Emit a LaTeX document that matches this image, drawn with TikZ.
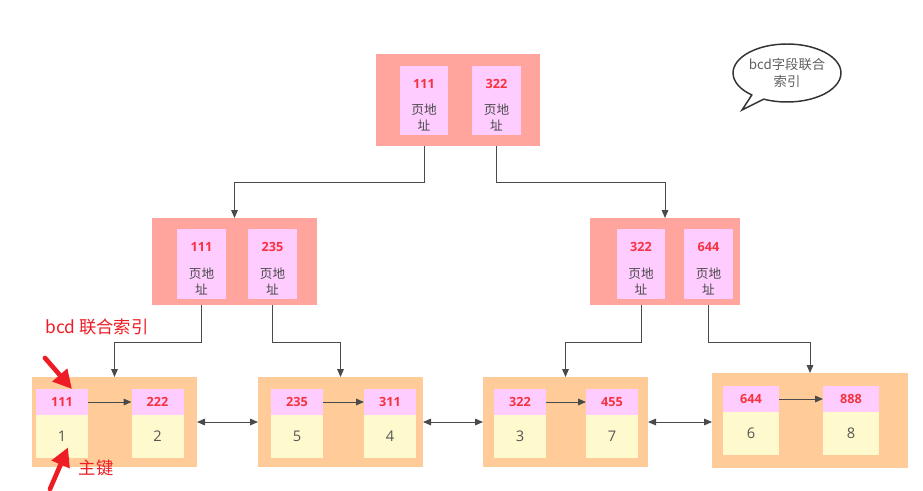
\documentclass[tikz,border=0pt]{standalone}
\usepackage{fontspec}
\setmainfont{Open Sans}
\newfontfamily\cjk{Noto Sans CJK SC}
\usepackage{tikz}
\usetikzlibrary{shapes.callouts, arrows.meta, positioning}
\usepackage{xcolor}
\definecolor{pagered}{HTML}{FFA59E}
\definecolor{keypink}{HTML}{FFCCFF}
\definecolor{keyred}{HTML}{F5333F}
\definecolor{addrgray}{HTML}{4A4A4A}
\definecolor{leafpeach}{HTML}{FFCC99}
\definecolor{valyellow}{HTML}{FFFACD}
\definecolor{valgray}{HTML}{555555}
\definecolor{linkgray}{HTML}{4A4A4A}
\definecolor{notegray}{HTML}{606060}
\definecolor{markred}{HTML}{EE1C25}

\begin{document}
\begin{tikzpicture}[
    x=0.75pt, y=-0.75pt,
    node distance=0pt,
    every node/.style={inner sep=0pt, outer sep=0pt},
    pagebox/.style={rectangle, fill=pagered, minimum height=65.25pt},
    keybox/.style={rectangle, fill=keypink, minimum width=36.5pt, minimum height=52pt},
    keynum/.style={font=\bfseries\fontsize{9.5}{11}\selectfont, text=keyred},
    addr/.style={font=\cjk\fontsize{9.5}{12}\selectfont, text=addrgray, align=center},
    leafbox/.style={rectangle, fill=leafpeach, minimum width=123.75pt, minimum height=67.5pt},
    leafkey/.style={rectangle, fill=keypink, minimum width=39pt, minimum height=19.5pt, font=\bfseries\fontsize{9.5}{11}\selectfont, text=keyred},
    leafval/.style={rectangle, fill=valyellow, minimum width=39pt, minimum height=32.25pt, font=\fontsize{11}{13}\selectfont, text=valgray},
    link/.style={draw=linkgray, line width=0.75pt, -{Triangle[length=6pt,width=5pt]}},
    biarrow/.style={draw=linkgray, line width=0.75pt, {Triangle[length=6pt,width=5pt]}-{Triangle[length=6pt,width=5pt]}},
    note/.style={ellipse callout, draw=black!80, line width=1.1pt, fill=white, minimum width=71pt, minimum height=43.5pt, align=center, font=\cjk\fontsize{10}{13}\selectfont, text=notegray},
    redtext/.style={font=\cjk\fontsize{13}{15}\selectfont, text=markred},
    redpointer/.style={draw=markred, line width=3.5pt, line cap=round, -{Triangle[length=14pt,width=14pt]}},
]
\useasboundingbox[fill=white] (0,0) rectangle (923,490);

% Root page
\node[pagebox, minimum width=123pt, minimum height=69pt] (root) at (458,100) {};
\node[keybox] (rk1) at (424,100.5) {};
\node[keybox] (rk2) at (496.5,100.5) {};
\node[keynum] at ([yshift=12.75pt]rk1.center) {111};
\node[addr] at ([yshift=-12.75pt]rk1.center) {页地\\址};
\node[keynum] at ([yshift=12.75pt]rk2.center) {322};
\node[addr] at ([yshift=-12.75pt]rk2.center) {页地\\址};

% Second level
\node[pagebox, minimum width=123.75pt] (ml) at (234.5,261.5) {};
\node[keybox] (mk1) at (201.5,264) {};
\node[keybox] (mk2) at (272.5,264) {};
\node[keynum] at ([yshift=12.75pt]mk1.center) {111};
\node[addr] at ([yshift=-12.75pt]mk1.center) {页地\\址};
\node[keynum] at ([yshift=12.75pt]mk2.center) {235};
\node[addr] at ([yshift=-12.75pt]mk2.center) {页地\\址};

\node[pagebox, minimum width=112.5pt] (mr) at (665,261.5) {};
\node[keybox] (nk1) at (641,264) {};
\node[keybox] (nk2) at (708.5,264) {};
\node[keynum] at ([yshift=12.75pt]nk1.center) {322};
\node[addr] at ([yshift=-12.75pt]nk1.center) {页地\\址};
\node[keynum] at ([yshift=12.75pt]nk2.center) {644};
\node[addr] at ([yshift=-12.75pt]nk2.center) {页地\\址};

% Leaf pages
\node[leafbox] (l1) at (114.5,422) {};
\node[leafkey] (a1) at (62,402) {111};
\node[leafval, below=of a1] (v1) {1};
\node[leafkey] (a2) at (157.5,402) {222};
\node[leafval, below=of a2] (v2) {2};

\node[leafbox] (l2) at (340.5,422) {};
\node[leafkey] (b1) at (297,402) {235};
\node[leafval, below=of b1] (w1) {5};
\node[leafkey] (b2) at (390,402) {311};
\node[leafval, below=of b2] (w2) {4};

\node[leafbox] (l3) at (565.5,422) {};
\node[leafkey] (c1) at (520,402) {322};
\node[leafval, below=of c1] (x1) {3};
\node[leafkey] (c2) at (612,402) {455};
\node[leafval, below=of c2] (x2) {7};

\node[leafbox, minimum width=147pt, minimum height=71.25pt] (l4) at (810,420.5) {};
\node[leafkey, minimum width=42pt] (d1) at (751,399) {644};
\node[leafval, minimum width=42pt, below=of d1] (y1) {6};
\node[leafkey, minimum width=42pt] (d2) at (851,399) {888};
\node[leafval, minimum width=42pt, below=of d2] (y2) {8};

% Speech bubble
\node[note, callout absolute pointer={(742,110)}] (bubble) at (787,73) {bcd字段联合\\索引};

% Arrows
\coordinate (busA) at (0,182);
\coordinate (busB) at (0,342);
\draw[link] (rk1 |- root.south) -- (rk1 |- busA) -| (ml.north);
\draw[link] (rk2 |- root.south) -- (rk2 |- busA) -| (mr.north);
\draw[link] (mk1 |- ml.south) -- (mk1 |- busB) -| (l1.north);
\draw[link] (mk2 |- ml.south) -- (mk2 |- busB) -| (l2.north);
\draw[link] (nk1 |- mr.south) -- (nk1 |- busB) -| (l3.north);
\draw[link] (nk2 |- mr.south) -- (nk2 |- busB) -| (l4.north);

% Sibling pages
\draw[biarrow] (l1.east) -- (l2.west);
\draw[biarrow] (l2.east) -- (l3.west);
\draw[biarrow] (l3.east) -- (l3.east -| l4.west);

% Inside leaf pages
\draw[link] (a1.east) -- (a2.west);
\draw[link] (b1.east) -- (b2.west);
\draw[link] (c1.east) -- (c2.west);
\draw[link] (d1.east) -- (d2.west);

% Red notes
\node[redtext] (idxlabel) at (97,327) {bcd 联合索引};
\node[redtext] (pklabel) at (96,468) {主键};
\coordinate (tailA) at (45,358);
\coordinate (tailB) at (50,489);
\draw[redpointer] (tailA) -- ([xshift=7.5pt]a1.north);
\draw[redpointer] (tailB) -- ([xshift=4.5pt,yshift=8pt]v1.south);

\end{tikzpicture}
\end{document}
